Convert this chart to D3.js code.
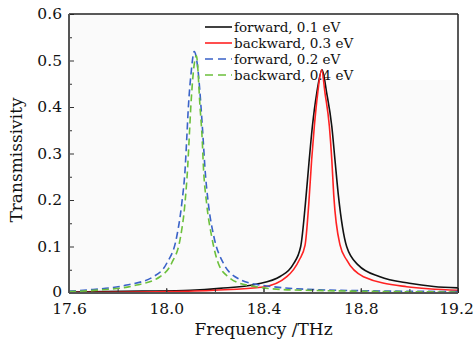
<!DOCTYPE html>
<html>
<head>
<meta charset="utf-8">
<title>Transmissivity</title>
<script src="https://d3js.org/d3.v7.min.js"></script>
<style>
  body { margin: 0; background: #fff; }
  text { font-family: "DejaVu Serif", "Liberation Serif", serif; fill: #111; }
  .tick text { font-size: 15.5px; }
  .axis-title { font-size: 17px; }
  .legend text { font-size: 13.5px; }
</style>
</head>
<body>
<script>
// values
var xTicks = [17.6, 18.0, 18.4, 18.8, 19.2];
var xMinor = [17.6, 17.8, 18.0, 18.2, 18.4, 18.6, 18.8, 19.0, 19.2];
var yTicks = [0, 0.1, 0.2, 0.3, 0.4, 0.5, 0.6];
var yTickLabels = ["0", "0.1", "0.2", "0.3", "0.4", "0.5", "0.6"];
var yMinor = [0.05, 0.15, 0.25, 0.35, 0.45, 0.55];

var fwd01 = [[17.6,0.002],[17.9,0.004],[18.1,0.006],[18.22,0.010],[18.37,0.019],[18.47,0.036],[18.52,0.06],[18.553,0.10],[18.572,0.19],[18.587,0.28],[18.601,0.358],[18.619,0.43],[18.641,0.48],[18.66,0.43],[18.681,0.358],[18.694,0.286],[18.708,0.21],[18.742,0.10],[18.79,0.06],[18.879,0.035],[19.0,0.021],[19.1,0.014],[19.2,0.011]];
var bwd03 = [[17.6,0.001],[18.0,0.003],[18.2,0.006],[18.4,0.013],[18.496,0.035],[18.547,0.071],[18.571,0.103],[18.586,0.19],[18.598,0.286],[18.609,0.358],[18.623,0.43],[18.639,0.48],[18.653,0.43],[18.671,0.358],[18.681,0.286],[18.689,0.21],[18.715,0.103],[18.742,0.071],[18.811,0.035],[18.989,0.0135],[19.2,0.006]];
var fwd02 = [[17.6,0.004],[17.673,0.0065],[17.837,0.017],[17.947,0.035],[18.002,0.064],[18.043,0.121],[18.064,0.193],[18.078,0.27],[18.084,0.329],[18.091,0.40],[18.102,0.472],[18.115,0.519],[18.132,0.472],[18.143,0.40],[18.152,0.329],[18.159,0.27],[18.173,0.193],[18.196,0.121],[18.235,0.064],[18.283,0.035],[18.386,0.017],[18.66,0.0065],[19.2,0.003]];
var bwd04 = [[17.6,0.003],[17.728,0.0065],[17.878,0.017],[17.974,0.035],[18.022,0.064],[18.059,0.121],[18.077,0.193],[18.088,0.27],[18.094,0.329],[18.101,0.40],[18.124,0.51],[18.139,0.40],[18.148,0.329],[18.153,0.27],[18.166,0.193],[18.187,0.121],[18.214,0.064],[18.255,0.035],[18.331,0.017],[18.523,0.0065],[19.2,0.002]];

var seriesNames = ["forward, 0.1 eV", "backward, 0.3 eV", "forward, 0.2 eV", "backward, 0.4 eV"];
var seriesData = [fwd01, bwd03, fwd02, bwd04];
var seriesColors = ["#111111", "#ff2222", "#3a62c8", "#6cc03c"];
var seriesDash = [null, null, "7,4", "7,4"];

var width = 474, height = 340;
var margin = {top: 14, right: 16, bottom: 47, left: 69};
var iw = width - margin.left - margin.right;
var ih = height - margin.top - margin.bottom;

var svg = d3.select("body").append("svg")
    .attr("width", width).attr("height", height);

var g = svg.append("g").attr("transform", "translate(" + margin.left + "," + margin.top + ")");

var x = d3.scaleLinear().domain([17.6, 19.2]).range([0, iw]);
var y = d3.scaleLinear().domain([0, 0.6]).range([ih, 0]);

g.append("rect").attr("width", iw).attr("height", ih).attr("fill", "#fafafa");

// legend box + labels (the curves pass over it)
var legend = g.append("g").attr("class", "legend");
legend.append("rect").attr("x", 131).attr("y", 0).attr("width", iw - 131).attr("height", 66).attr("fill", "#fff");
var items = legend.selectAll("g.item").data(seriesNames).enter().append("g").attr("class", "item")
    .attr("transform", function(d, i) { return "translate(136," + (13 + i * 16) + ")"; });
items.append("line").attr("x1", 0).attr("x2", 27).attr("y1", 0).attr("y2", 0)
    .attr("stroke", function(d, i) { return seriesColors[i]; })
    .attr("stroke-width", 1.6)
    .attr("stroke-dasharray", function(d, i) { return seriesDash[i] ? "8,5" : null; });
items.append("text").attr("x", 29).attr("y", 0).attr("dy", "0.35em").text(function(d) { return d; });

// curves
var line = d3.line().x(function(d) { return x(d[0]); }).y(function(d) { return y(d[1]); })
    .curve(d3.curveMonotoneX);
g.append("g").selectAll("path").data(seriesData).enter().append("path")
    .attr("d", line)
    .attr("fill", "none")
    .attr("stroke", function(d, i) { return seriesColors[i]; })
    .attr("stroke-width", 1.6)
    .attr("stroke-dasharray", function(d, i) { return seriesDash[i]; });

// minor ticks (inside)
g.append("g").attr("transform", "translate(0," + ih + ")")
    .call(d3.axisBottom(x).tickValues(xMinor).tickSize(-4).tickFormat(""))
    .call(function(s) { s.select(".domain").remove(); s.selectAll("line").attr("stroke", "#333"); });
g.append("g")
    .call(d3.axisLeft(y).tickValues(yMinor).tickSize(-3).tickFormat(""))
    .call(function(s) { s.select(".domain").remove(); s.selectAll("line").attr("stroke", "#333"); });

// major axes
var xa = g.append("g").attr("transform", "translate(0," + ih + ")")
    .call(d3.axisBottom(x).tickValues(xTicks).tickSize(-5).tickPadding(10).tickFormat(d3.format(".1f")));
var ya = g.append("g")
    .call(d3.axisLeft(y).tickValues(yTicks).tickSize(-5).tickPadding(7)
        .tickFormat(function(d, i) { return yTickLabels[i]; }));
[xa, ya].forEach(function(a) {
  a.select(".domain").remove();
  a.selectAll("line").attr("stroke", "#333");
  a.selectAll("text").attr("fill", "#111").style("font-family", "DejaVu Serif");
});
ya.selectAll(".tick").filter(function(d) { return d === 0; }).select("text").attr("dy", "0.2em");
xa.selectAll(".tick").filter(function(d) { return d === 19.2; }).select("text").attr("dx", "-2");

// frame
g.append("line").attr("x1", 0).attr("x2", iw).attr("y1", 0).attr("y2", 0).attr("stroke", "#222").attr("stroke-width", 1.5);
g.append("line").attr("x1", iw).attr("x2", iw).attr("y1", 0).attr("y2", ih).attr("stroke", "#222").attr("stroke-width", 1.5);
g.append("line").attr("x1", 0).attr("x2", 0).attr("y1", 0).attr("y2", ih).attr("stroke", "#555").attr("stroke-width", 2);
g.append("line").attr("x1", 0).attr("x2", iw).attr("y1", ih).attr("y2", ih).attr("stroke", "#555").attr("stroke-width", 2);

// axis titles
svg.append("text").attr("class", "axis-title")
    .attr("x", margin.left + iw / 2).attr("y", 335).attr("text-anchor", "middle")
    .text("Frequency /THz");
svg.append("text").attr("class", "axis-title")
    .attr("transform", "translate(22,160) rotate(-90)").attr("text-anchor", "middle")
    .text("Transmissivity");
</script>
</body>
</html>
